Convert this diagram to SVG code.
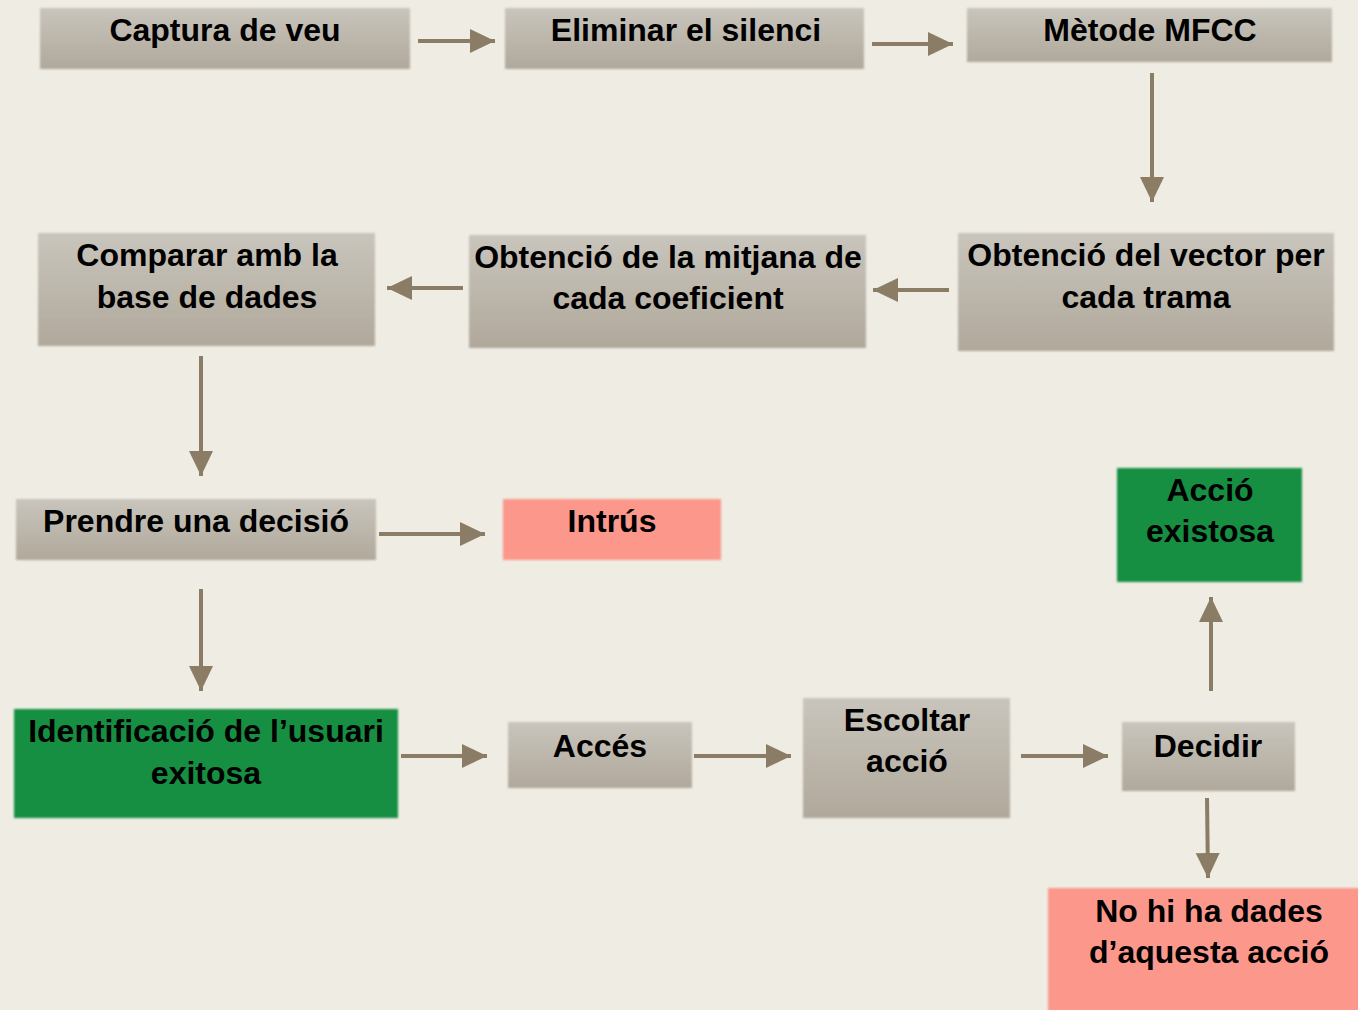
<svg xmlns="http://www.w3.org/2000/svg" width="1358" height="1010" viewBox="0 0 1358 1010">
<defs>
<linearGradient id="g" x1="0" y1="0" x2="0" y2="1">
<stop offset="0" stop-color="#C9C5BC"/>
<stop offset="1" stop-color="#B0A89B"/>
</linearGradient>
<filter id="soft" x="-5%" y="-5%" width="110%" height="110%"><feGaussianBlur stdDeviation="1.2"/></filter>
<marker id="ah" markerUnits="userSpaceOnUse" markerWidth="26" markerHeight="26" viewBox="0 0 26 26" refX="25" refY="12" orient="auto">
<path d="M0,0 L25,12 L0,24 Z" fill="#8B7D65"/>
</marker>
</defs>
<style>
.box{fill:url(#g);filter:url(#soft)}
.green{fill:#138F43;filter:url(#soft)}
.pink{fill:#FC988B;filter:url(#soft)}
text{font-family:"Liberation Sans",Arial,sans-serif;font-weight:bold;font-size:32px;fill:#000;text-anchor:middle}
.c line{stroke:#8B7D65;stroke-width:4;marker-end:url(#ah)}
</style>
<rect width="1358" height="1010" fill="#EFECE3"/>
<g id="n1"><rect class="box" x="40" y="8" width="370" height="61"/><text x="225" y="41">Captura de veu</text></g>
<g id="n2"><rect class="box" x="505" y="8" width="359" height="61"/><text x="686" y="41">Eliminar el silenci</text></g>
<g id="n3"><rect class="box" x="967" y="8" width="365" height="54"/><text x="1150" y="41">Mètode MFCC</text></g>
<g id="n4"><rect class="box" x="958" y="233" width="376" height="118"/><text x="1146" y="266">Obtenció del vector per</text><text x="1146" y="308">cada trama</text></g>
<g id="n5"><rect class="box" x="469" y="235" width="397" height="113"/><text x="668" y="268">Obtenció de la mitjana de</text><text x="668" y="309">cada coeficient</text></g>
<g id="n6"><rect class="box" x="38" y="233" width="337" height="113"/><text x="207" y="266">Comparar amb la</text><text x="207" y="308">base de dades</text></g>
<g id="n7"><rect class="box" x="16" y="499" width="360" height="61"/><text x="196" y="532">Prendre una decisió</text></g>
<g id="n8"><rect class="pink" x="503" y="499" width="218" height="61"/><text x="612" y="532">Intrús</text></g>
<g id="n9"><rect class="green" x="1117" y="468" width="185" height="114"/><text x="1210" y="501">Acció</text><text x="1210" y="542">existosa</text></g>
<g id="n10"><rect class="green" x="14" y="709" width="384" height="109"/><text x="206" y="742">Identificació de l’usuari</text><text x="206" y="784">exitosa</text></g>
<g id="n11"><rect class="box" x="508" y="722" width="184" height="66"/><text x="600" y="757">Accés</text></g>
<g id="n12"><rect class="box" x="803" y="698" width="207" height="120"/><text x="907" y="731">Escoltar</text><text x="907" y="772">acció</text></g>
<g id="n13"><rect class="box" x="1122" y="722" width="173" height="69"/><text x="1208" y="757">Decidir</text></g>
<g id="n14"><rect class="pink" x="1048" y="888" width="315" height="130"/><text x="1209" y="922">No hi ha dades</text><text x="1209" y="963">d’aquesta acció</text></g>
<g id="connectors" class="c">
<line x1="418" y1="41" x2="495" y2="41"/>
<line x1="872" y1="44" x2="953" y2="44"/>
<line x1="1152" y1="73" x2="1152" y2="202"/>
<line x1="949" y1="290" x2="873" y2="290"/>
<line x1="463" y1="288" x2="387" y2="288"/>
<line x1="201" y1="356" x2="201" y2="476"/>
<line x1="379" y1="534" x2="485" y2="534"/>
<line x1="201" y1="589" x2="201" y2="691"/>
<line x1="401" y1="756" x2="487" y2="756"/>
<line x1="694" y1="756" x2="791" y2="756"/>
<line x1="1021" y1="756" x2="1108" y2="756"/>
<line x1="1211" y1="691" x2="1211" y2="597"/>
<line x1="1207" y1="798" x2="1208" y2="878"/>
</g>
</svg>
